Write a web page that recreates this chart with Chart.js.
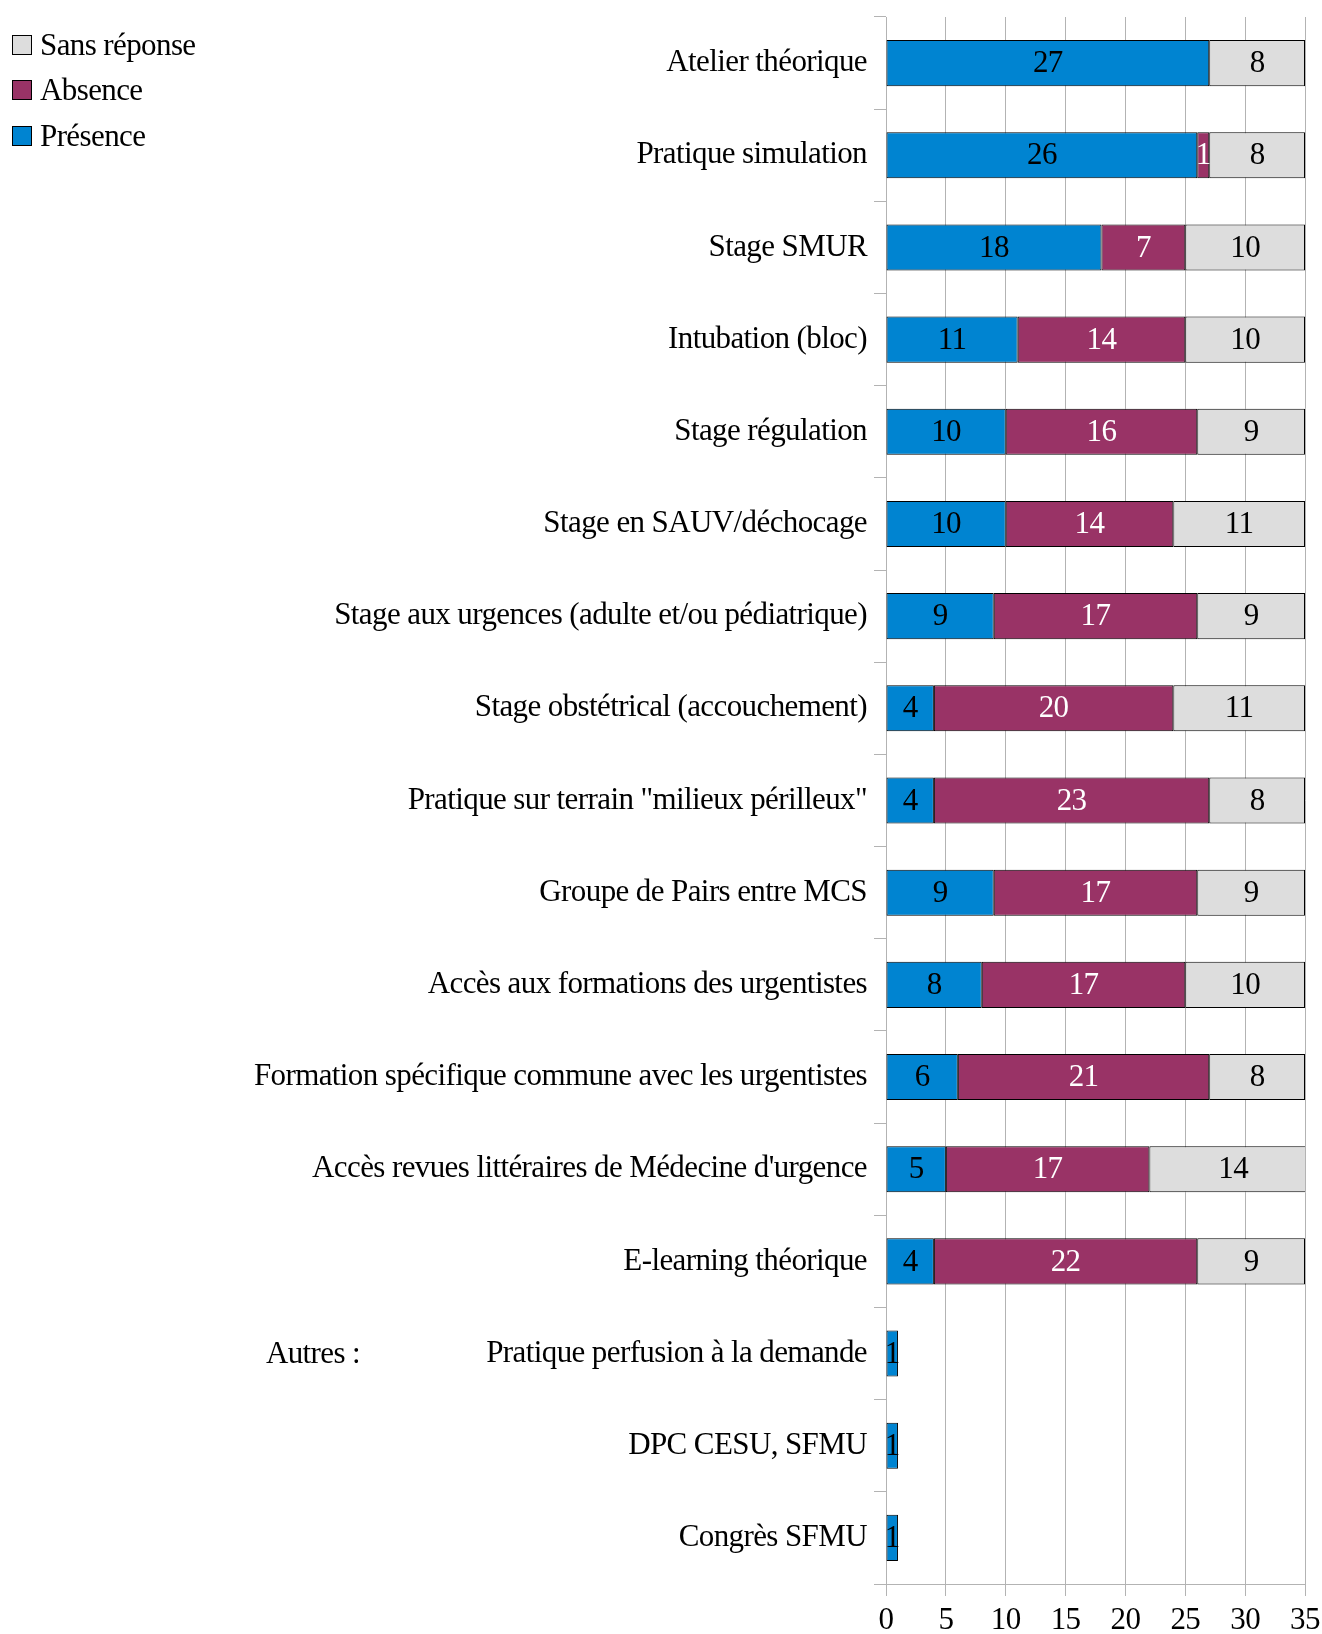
<!DOCTYPE html>
<html lang="fr">
<head>
<meta charset="UTF-8">
<title>Formations</title>
<script src="https://cdn.jsdelivr.net/npm/chart.js"></script>
<style>
  body { margin: 0; background: #fff; font-family: 'Liberation Serif', serif; }
  #wrap { position: relative; width: 1322px; height: 1634px; }
  .leg { position: absolute; left: 12px; font-size: 31px; line-height: 31px; color: #000; letter-spacing: -0.6px; }
  .leg span { display: inline-block; width: 18px; height: 18px; border: 1px solid #000; margin-right: 8px; vertical-align: 0px; }
</style>
</head>
<body>
<div id="wrap">
  <canvas id="graf"></canvas>
  <div class="leg" style="top:29px"><span style="background:#dddddd"></span>Sans réponse</div>
  <div class="leg" style="top:74px"><span style="background:#993366"></span>Absence</div>
  <div class="leg" style="top:120px"><span style="background:#0084d1"></span>Présence</div>
</div>
<script>
const categories = [
  "Atelier théorique", "Pratique simulation", "Stage SMUR", "Intubation (bloc)",
  "Stage régulation", "Stage en SAUV/déchocage", "Stage aux urgences (adulte et/ou pédiatrique)",
  "Stage obstétrical (accouchement)", "Pratique sur terrain \"milieux périlleux\"",
  "Groupe de Pairs entre MCS", "Accès aux formations des urgentistes",
  "Formation spécifique commune avec les urgentistes", "Accès revues littéraires de Médecine d'urgence",
  "E-learning théorique", "Pratique perfusion à la demande", "DPC CESU, SFMU", "Congrès SFMU"
];
const presence = [27, 26, 18, 11, 10, 10, 9, 4, 4, 9, 8, 6, 5, 4, 1, 1, 1];
const absence = [null, 1, 7, 14, 16, 14, 17, 20, 23, 17, 17, 21, 17, 22, null, null, null];
const sansReponse = [8, 8, 10, 10, 9, 11, 9, 11, 8, 9, 10, 8, 14, 9, null, null, null];
const xTicks = [0, 5, 10, 15, 20, 25, 30, 35];

const police = "'Liberation Serif', serif";

// texte un peu resserré comme l'original
const serre = {
  id: 'serre',
  beforeDraw(chart) { chart.ctx.letterSpacing = "-0.6px"; }
};

// valeurs au centre des barres
const etiquettes = {
  id: 'etiquettes',
  afterDatasetsDraw(chart) {
    const ctx = chart.ctx;
    ctx.save();
    ctx.font = "31px " + police;
    ctx.textAlign = "center";
    ctx.textBaseline = "middle";
    chart.data.datasets.forEach((ds, i) => {
      chart.getDatasetMeta(i).data.forEach((bar, j) => {
        const v = ds.data[j];
        if (v == null) return;
        ctx.fillStyle = ds.labelColor;
        ctx.fillText(v, (bar.x + bar.base) / 2, bar.y + 1);
      });
    });
    // "Autres :"
    const y = chart.scales.y.getPixelForValue(14);
    ctx.fillStyle = "#000";
    ctx.fillText("Autres :", 313, y + 1);
    ctx.restore();
  }
};

new Chart(document.getElementById("graf"), {
  type: "bar",
  data: {
    labels: categories,
    datasets: [
      { label: "Présence", data: presence, backgroundColor: "#0084d1", labelColor: "#000" },
      { label: "Absence", data: absence, backgroundColor: "#993366", labelColor: "#fff" },
      { label: "Sans réponse", data: sansReponse, backgroundColor: "#dddddd", labelColor: "#000" }
    ].map(d => Object.assign(d, { borderColor: "#000", borderWidth: 1, borderSkipped: false,
      categoryPercentage: 1, barPercentage: 0.5 }))
  },
  options: {
    indexAxis: "y",
    responsive: true,
    maintainAspectRatio: false,
    animation: false,
    layout: { padding: { top: 17, right: 17, left: 0, bottom: 0 } },
    plugins: { legend: { display: false }, tooltip: { enabled: false } },
    scales: {
      x: {
        stacked: true, min: 0, max: 35,
        ticks: { stepSize: 5, color: "#000", font: { family: police, size: 31 }, padding: 6 },
        grid: { color: "#b3b3b3", tickLength: 12 },
        border: { color: "#b3b3b3" },
        afterFit(s) { s.height = 50; s.paddingLeft = 0; s.paddingRight = 0; }
      },
      y: {
        stacked: true,
        ticks: { color: "#000", font: { family: police, size: 31 }, padding: 7, autoSkip: false },
        grid: { offset: true, drawOnChartArea: false, color: "#b3b3b3", tickLength: 12 },
        border: { color: "#b3b3b3" },
        afterFit(s) { s.width = 886; s.paddingTop = 0; s.paddingBottom = 0; }
      }
    }
  },
  plugins: [serre, etiquettes]
});
</script>
</body>
</html>
